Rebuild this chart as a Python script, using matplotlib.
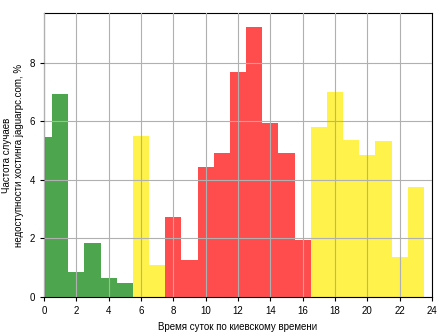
import matplotlib
matplotlib.use("Agg")
import matplotlib.pyplot as plt

plt.rcParams['font.family'] = ['Liberation Sans', 'DejaVu Sans']

hours = list(range(24))
values = [5.47, 6.93, 0.85, 1.84, 0.66, 0.48, 5.49, 1.09, 2.73, 1.27, 4.44, 4.91,
          7.69, 9.23, 5.95, 4.91, 1.96, 5.80, 7.01, 5.37, 4.85, 5.32, 1.37, 3.75]
groups = ['night'] * 6 + ['eve'] * 2 + ['day'] * 9 + ['eve'] * 7
group_colors = {'night': '#4DA64D', 'eve': '#FFF24A', 'day': '#FF4D4D'}
xticks = list(range(0, 25, 2))
yticks = [0, 2, 4, 6, 8]

fig = plt.figure(figsize=(4.48, 3.36), dpi=100)
ax = fig.add_axes([0.0982, 0.116, 0.866, 0.845])
ax.bar(hours, values, width=1.0, color=[group_colors[g] for g in groups], zorder=1)
ax.set_xlim(0, 24)
ax.set_ylim(0, max(values) * 1.05)
ax.set_xticks(xticks)
ax.set_yticks(yticks)
ax.set_axisbelow(False)
ax.grid(True, color='#b0b0b0', linewidth=0.8, zorder=3)
ax.tick_params(labelsize=7, length=3)
ax.set_xlabel('Время суток по киевскому времени', fontsize=7)
ax.set_ylabel('Частота случаев\nнедоступности хостинга jaguarpc.com, %', fontsize=7)
fig.savefig('out.png', dpi=100)
